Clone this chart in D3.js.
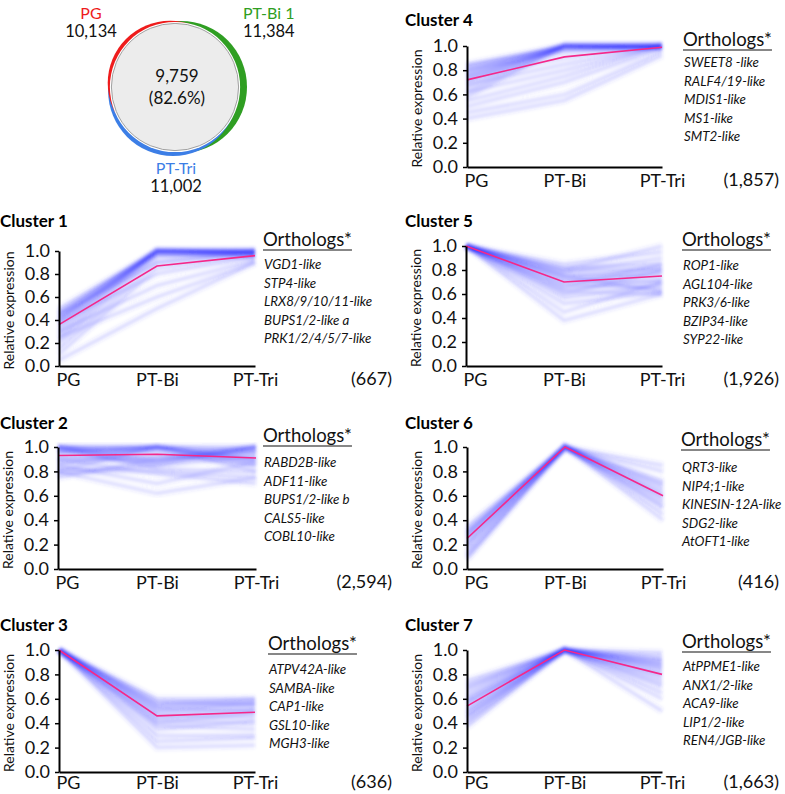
<!DOCTYPE html>
<html><head><meta charset="utf-8">
<script src="https://cdn.jsdelivr.net/npm/d3@7"></script>
<style>
body{margin:0;background:#fff;}
svg{display:block;font-family:Lato,"Open Sans",sans-serif;}
</style></head>
<body>
<svg id="chart" width="785" height="794"></svg>
<script>
// ---------- DATA ----------
const stages = ["PG", "PT-Bi", "PT-Tri"];
const yTicks = [0, 0.2, 0.4, 0.6, 0.8, 1.0];

const vennLabels = ["PG", "PT-Bi 1", "PT-Tri"];
const vennSizes = [10134, 11384, 11002];
const vennCore = 9759;
const vennCorePct = "82.6%";

const clusterNames = ["Cluster 1","Cluster 2","Cluster 3","Cluster 4","Cluster 5","Cluster 6","Cluster 7"];
const clusterCounts = ["(667)","(2,594)","(636)","(1,857)","(1,926)","(416)","(1,663)"];

const c1Genes = ["VGD1-like","STP4-like","LRX8/9/10/11-like","BUPS1/2-like a","PRK1/2/4/5/7-like"];
const c2Genes = ["RABD2B-like","ADF11-like","BUPS1/2-like b","CALS5-like","COBL10-like"];
const c3Genes = ["ATPV42A-like","SAMBA-like","CAP1-like","GSL10-like","MGH3-like"];
const c4Genes = ["SWEET8 -like","RALF4/19-like","MDIS1-like","MS1-like","SMT2-like"];
const c5Genes = ["ROP1-like","AGL104-like","PRK3/6-like","BZIP34-like","SYP22-like"];
const c6Genes = ["QRT3-like","NIP4;1-like","KINESIN-12A-like","SDG2-like","AtOFT1-like"];
const c7Genes = ["AtPPME1-like","ANX1/2-like","ACA9-like","LIP1/2-like","REN4/JGB-like"];

const c1Mean = [0.36, 0.87, 0.96];
const c2Mean = [0.93, 0.94, 0.91];
const c3Mean = [1.0, 0.46, 0.49];
const c4Mean = [0.72, 0.91, 0.99];
const c5Mean = [1.0, 0.70, 0.75];
const c6Mean = [0.25, 1.0, 0.60];
const c7Mean = [0.54, 1.0, 0.80];

const c1Profiles = [[0.5,1,1],[0.47,1,1],[0.44,1,0.99],[0.41,1,1],[0.38,1,0.98],[0.35,1,0.97],[0.32,1,1],[0.28,1,0.98],[0.24,0.98,0.97],[0.2,0.95,1],[0.15,0.9,0.98],[0.1,0.85,0.96],[0.45,0.9,1],[0.38,0.8,0.95],[0.3,0.7,0.92],[0.25,0.6,0.9],[0.05,0.5,0.9],[0.42,0.97,0.95],[0.46,1,1],[0.4,1,0.99]];
const c2Profiles = [[1,0.9,1],[1,0.88,0.98],[0.98,0.85,1],[0.95,1,0.9],[0.9,1,0.85],[0.85,1,0.88],[0.8,1,0.8],[1,0.95,0.85],[0.92,0.88,1],[0.88,0.92,1],[1,1,0.9],[0.97,0.98,0.95],[0.78,0.85,0.92],[0.82,0.8,0.75],[0.9,0.78,0.7],[0.75,0.9,0.95],[1,0.82,0.8],[0.85,0.7,0.88],[0.8,0.62,0.75],[1,1,1],[0.96,1,0.97]];
const c3Profiles = [[1,0.6,0.6],[1,0.58,0.55],[1,0.55,0.58],[1,0.52,0.5],[1,0.5,0.56],[1,0.48,0.52],[1,0.46,0.45],[1,0.44,0.5],[1,0.42,0.4],[1,0.4,0.48],[1,0.38,0.35],[1,0.35,0.42],[1,0.3,0.3],[1,0.25,0.28],[1,0.2,0.22],[1,0.56,0.6],[1,0.53,0.56]];
const c4Profiles = [[0.85,1,1],[0.82,1,1],[0.8,1,1],[0.78,1,1],[0.75,1,1],[0.72,1,1],[0.7,1,1],[0.66,1,1],[0.62,1,1],[0.58,1,0.98],[0.8,0.95,1],[0.74,0.9,1],[0.68,0.85,1],[0.62,0.8,1],[0.55,0.75,1],[0.5,0.7,0.98],[0.45,0.6,0.95],[0.4,0.55,0.92],[0.84,0.98,1],[0.76,0.97,1]];
const c5Profiles = [[1,0.85,0.95],[1,0.82,0.85],[1,0.8,0.8],[1,0.78,0.9],[1,0.76,0.75],[1,0.74,0.82],[1,0.72,0.7],[1,0.7,0.78],[1,0.68,0.65],[1,0.66,0.85],[1,0.64,0.72],[1,0.62,0.6],[1,0.6,0.8],[1,0.57,0.68],[1,0.52,0.62],[1,0.45,0.7],[1,0.38,0.6],[1,0.8,1.0],[1,0.75,0.62]];
const c6Profiles = [[0.35,1,0.8],[0.32,1,0.7],[0.3,1,0.65],[0.28,1,0.6],[0.25,1,0.55],[0.22,1,0.62],[0.2,1,0.5],[0.18,1,0.72],[0.15,1,0.45],[0.12,1,0.58],[0.1,1,0.4],[0.3,1,0.85],[0.26,1,0.68],[0.08,1,0.52]];
const c7Profiles = [[0.75,1,0.98],[0.72,1,0.95],[0.68,1,0.92],[0.65,1,0.9],[0.62,1,0.88],[0.6,1,0.85],[0.58,1,0.82],[0.55,1,0.8],[0.52,1,0.78],[0.5,1,0.75],[0.48,1,0.72],[0.45,1,0.7],[0.42,1,0.65],[0.4,1,0.6],[0.37,1,0.5],[0.7,1,0.88],[0.57,1,0.92],[0.46,1,0.85]];

// ---------- LAYOUT ----------
const svg = d3.select("#chart");
const defs = svg.append("defs");
defs.append("filter").attr("id", "soft").attr("x", "-10%").attr("y", "-10%").attr("width", "120%").attr("height", "120%")
  .append("feGaussianBlur").attr("stdDeviation", 1.6);

const panels = [
  {i:0, profiles:c1Profiles, mean:c1Mean, genes:c1Genes, x0:59, x1:255, top:251, bottom:366, titleX:0, titleY:227, orthX:263, orthY:246, geneY:269, countX:392, pad:7},
  {i:1, profiles:c2Profiles, mean:c2Mean, genes:c2Genes, x0:58, x1:256, top:447, bottom:569, titleX:0, titleY:429, orthX:263, orthY:442, geneY:467, countX:392, pad:7},
  {i:2, profiles:c3Profiles, mean:c3Mean, genes:c3Genes, x0:59, x1:255, top:650, bottom:772, titleX:0, titleY:631, orthX:268, orthY:650, geneY:674, countX:392, pad:4},
  {i:3, profiles:c4Profiles, mean:c4Mean, genes:c4Genes, x0:467, x1:662, top:46, bottom:167, titleX:405, titleY:26, orthX:683, orthY:46, geneY:67, countX:779, pad:7},
  {i:4, profiles:c5Profiles, mean:c5Mean, genes:c5Genes, x0:466, x1:662, top:246, bottom:366, titleX:405, titleY:227, orthX:682, orthY:246, geneY:270, countX:779, pad:7},
  {i:5, profiles:c6Profiles, mean:c6Mean, genes:c6Genes, x0:467, x1:663, top:447, bottom:569, titleX:405, titleY:429, orthX:681, orthY:446, geneY:472, countX:779, pad:7},
  {i:6, profiles:c7Profiles, mean:c7Mean, genes:c7Genes, x0:467, x1:662, top:650, bottom:772, titleX:405, titleY:631, orthX:682, orthY:648, geneY:671, countX:779, pad:4}
];

panels.forEach(p => {
  const g = svg.append("g");
  const x = d3.scalePoint().domain(stages).range([p.x0, p.x1]);
  const y = d3.scaleLinear().domain([0, 1]).range([p.bottom, p.top]);
  const line = d3.line().x((d, k) => x(stages[k])).y(d => y(d));

  // fan of profiles (soft, blurred)
  const fan = g.append("g").attr("filter", "url(#soft)");
  fan.selectAll("path.wide").data(p.profiles).join("path")
    .attr("class", "wide")
    .attr("d", line).attr("fill", "none")
    .attr("stroke", "#4040ff").attr("stroke-width", 7).attr("stroke-opacity", 0.07);
  fan.selectAll("path.thin").data(p.profiles).join("path")
    .attr("class", "thin")
    .attr("d", line).attr("fill", "none")
    .attr("stroke", "#2020ff").attr("stroke-width", 1.5).attr("stroke-opacity", 0.17);

  // mean
  g.append("path").datum(p.mean).attr("d", line).attr("fill", "none")
    .attr("stroke", "#f5288a").attr("stroke-width", 1.6);

  // axes
  const ya = g.append("g").attr("transform", `translate(${p.x0},0)`)
    .call(d3.axisLeft(y).tickValues(yTicks).tickFormat(d3.format(".1f")).tickSize(4).tickSizeOuter(0).tickPadding(5));
  ya.select(".domain").attr("stroke", "#000").attr("stroke-width", 2);
  ya.selectAll(".tick line").attr("stroke", "#000").attr("stroke-width", 1.5);
  ya.selectAll(".tick text").attr("font-size", 18).attr("fill", "#111").attr("font-family", "Lato");

  const xa = g.append("g").attr("transform", `translate(0,${p.bottom})`)
    .call(d3.axisBottom(x).tickSize(0).tickSizeOuter(0).tickPadding(p.pad));
  xa.select(".domain").attr("stroke", "#000").attr("stroke-width", 2);
  xa.selectAll(".tick text").attr("font-size", 18).attr("fill", "#111").attr("font-family", "Lato")
    .attr("text-anchor", d => d === "PG" ? "start" : "middle")
    .attr("dx", d => d === "PG" ? -3 : 0);

  // y title
  g.append("text")
    .attr("transform", `translate(${p.x0 - 45},${(p.top + p.bottom) / 2 + 2}) rotate(-90)`)
    .attr("text-anchor", "middle").attr("font-size", 14).attr("fill", "#111")
    .text("Relative expression");

  // cluster title
  g.append("text").attr("x", p.titleX).attr("y", p.titleY)
    .attr("font-size", 17).attr("font-weight", "bold").attr("fill", "#000")
    .text(clusterNames[p.i]);

  // orthologs header
  const oh = g.append("text").attr("x", p.orthX).attr("y", p.orthY)
    .attr("font-size", 18.5).attr("fill", "#111").text("Orthologs*");
  const w = oh.node().getComputedTextLength();
  g.append("line").attr("x1", p.orthX).attr("x2", p.orthX + w)
    .attr("y1", p.orthY + 4).attr("y2", p.orthY + 4)
    .attr("stroke", "#111").attr("stroke-width", 1.2);

  g.selectAll("text.gene").data(p.genes).join("text")
    .attr("class", "gene")
    .attr("x", p.orthX + 1).attr("y", (d, k) => p.geneY + k * 18.5)
    .attr("font-size", 13.3).attr("font-style", "italic").attr("fill", "#111")
    .text(d => d);

  g.append("text").attr("x", p.countX).attr("y", p.bottom + 12 + p.pad)
    .attr("text-anchor", "end").attr("font-size", 18).attr("fill", "#111")
    .text(clusterCounts[p.i]);
});

// ---------- VENN ----------
const vg = svg.append("g");
const rScale = d3.scaleSqrt().domain([0, d3.max(vennSizes)]).range([0, 66]);
const vennColors = ["#ee1c1c", "#2f9e22", "#3c7ee6"];
const vennOffsets = [[-5, -4], [6, 0], [-2, 4]];
const cx = 175, cy = 87;
// draw PT-Bi first, then PT-Tri, then PG
[1, 2, 0].forEach(k => {
  vg.append("circle").attr("cx", cx + vennOffsets[k][0]).attr("cy", cy + vennOffsets[k][1])
    .attr("r", rScale(vennSizes[k])).attr("fill", vennColors[k]);
});
const rc = rScale(vennCore) + 2.5;
vg.append("circle").attr("cx", cx).attr("cy", cy).attr("r", rc + 1.5).attr("fill", "#fff");
vg.append("circle").attr("cx", cx).attr("cy", cy).attr("r", rc)
  .attr("fill", "#ececec").attr("stroke", "#8a8a8a").attr("stroke-width", 0.8);

vg.append("text").attr("x", cx + 2).attr("y", 82).attr("text-anchor", "middle")
  .attr("font-size", 17).attr("fill", "#111").text(d3.format(",")(vennCore));
vg.append("text").attr("x", cx + 2).attr("y", 104).attr("text-anchor", "middle")
  .attr("font-size", 17).attr("fill", "#111").text(`(${vennCorePct})`);

const vennLabelPos = [[91, 19, "middle"], [243, 19, "start"], [176, 174, "middle"]];
vennLabels.forEach((lab, k) => {
  const [lx, ly, anc] = vennLabelPos[k];
  vg.append("text").attr("x", lx).attr("y", ly).attr("text-anchor", anc)
    .attr("font-size", 16).attr("fill", vennColors[k]).text(lab);
  vg.append("text").attr("x", lx).attr("y", ly + 18).attr("text-anchor", anc)
    .attr("font-size", 16.5).attr("fill", "#111").text(d3.format(",")(vennSizes[k]));
});
</script>
</body></html>
